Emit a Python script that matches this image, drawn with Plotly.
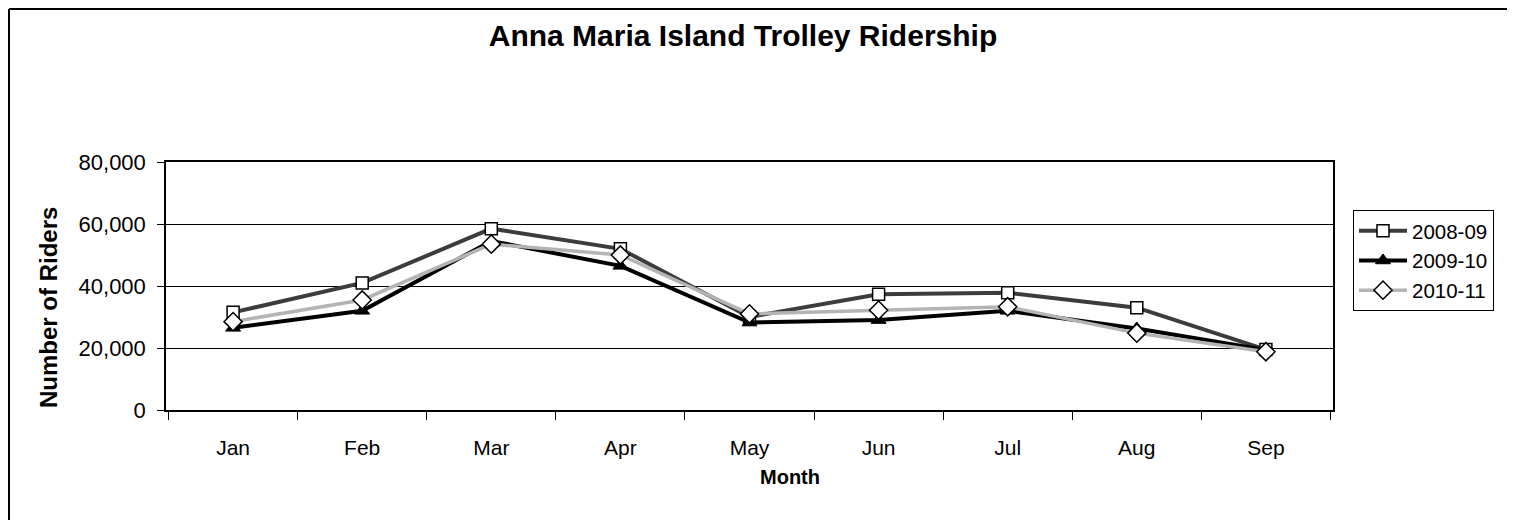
import plotly.graph_objects as go

months = ["Jan", "Feb", "Mar", "Apr", "May", "Jun", "Jul", "Aug", "Sep"]
riders_2008_09 = [31500, 41000, 58500, 52000, 30000, 37300, 37800, 33000, 19500]
riders_2009_10 = [26500, 32000, 54500, 46500, 28200, 29000, 32000, 26300, 19400]
riders_2010_11 = [28500, 35500, 53500, 50000, 31000, 32200, 33300, 24800, 18800]
series_names = ["2008-09", "2009-10", "2010-11"]
y_ticks = [0, 20000, 40000, 60000, 80000]

FONT = "Liberation Sans, Arial, sans-serif"

fig = go.Figure()
fig.add_trace(go.Scatter(
    x=months, y=riders_2008_09, name=series_names[0], mode="lines+markers",
    line=dict(color="#3c3c3c", width=4),
    marker=dict(symbol="square", size=12, color="white", line=dict(color="black", width=1.5)),
))
fig.add_trace(go.Scatter(
    x=months, y=riders_2009_10, name=series_names[1], mode="lines+markers",
    line=dict(color="black", width=4),
    marker=dict(symbol="triangle-up", size=13, color="black", line=dict(color="black", width=1)),
))
fig.add_trace(go.Scatter(
    x=months, y=riders_2010_11, name=series_names[2], mode="lines+markers",
    line=dict(color="#b4b4b4", width=3.5),
    marker=dict(symbol="diamond", size=14, color="white", line=dict(color="black", width=1.5)),
))

# page has an 8px body margin; figure pixels = page pixels - 8
OFF = 8
W, H = 1517 - 2 * OFF, 529 - 2 * OFF
L, R, T, B = 166 - OFF, 1333 - OFF, 162 - OFF, 410 - OFF
PW, PH = R - L, B - T


def px(x):
    return (x - OFF - L) / PW


def py(y):
    return (B - (y - OFF)) / PH


fig.update_layout(
    width=W, height=H,
    margin=dict(l=L, r=W - R, t=T, b=H - B),
    paper_bgcolor="white", plot_bgcolor="white",
    font=dict(family=FONT, color="black", size=20),
    title=dict(text="<b>Anna Maria Island Trolley Ridership</b>", x=(743 - OFF) / W, xref="container",
               xanchor="center", y=1 - (35 - OFF) / H, yref="container", yanchor="middle",
               font=dict(size=30, family=FONT, color="black")),
    showlegend=True,
    legend=dict(x=px(1353), y=py(210), xanchor="left", yanchor="top",
                bordercolor="black", borderwidth=1, bgcolor="white",
                font=dict(size=20.5, family=FONT, color="black"),
                itemwidth=48, tracegroupgap=2),
    xaxis=dict(
        type="category", categoryarray=months, tickson="boundaries",
        ticks="outside", ticklen=8, tickcolor="black", tickwidth=1,
        showline=True, linecolor="black", linewidth=1.5, mirror=True,
        showgrid=False, tickfont=dict(size=21), fixedrange=True,
        ticklabelstandoff=18,
    ),
    yaxis=dict(
        range=[0, 80000], tickvals=y_ticks, tickformat=",",
        ticks="outside", ticklen=7, tickcolor="black",
        showline=True, linecolor="black", linewidth=1.5, mirror=True,
        showgrid=True, gridcolor="black", gridwidth=1, zeroline=False,
        tickfont=dict(size=22), ticklabelstandoff=7,
    ),
    annotations=[
        dict(text="<b>Month</b>", xref="paper", yref="paper", x=px(790), y=py(477),
             xanchor="center", yanchor="middle", showarrow=False,
             font=dict(size=20, family=FONT, color="black")),
        dict(text="<b>Number of Riders</b>", xref="paper", yref="paper", x=px(48), y=py(308),
             xanchor="center", yanchor="middle", showarrow=False, textangle=-90,
             font=dict(size=24, family=FONT, color="black")),
    ],
    shapes=[
        dict(type="line", xref="paper", yref="paper",
             x0=px(OFF + 1), x1=px(OFF + W - 2),
             y0=py(OFF + 1), y1=py(OFF + 1),
             line=dict(color="black", width=2)),
        dict(type="line", xref="paper", yref="paper",
             x0=px(OFF + 1), x1=px(OFF + 1),
             y0=py(OFF + 1), y1=py(OFF + H - 1),
             line=dict(color="black", width=2)),
    ],
)

fig.write_html("out.html")
